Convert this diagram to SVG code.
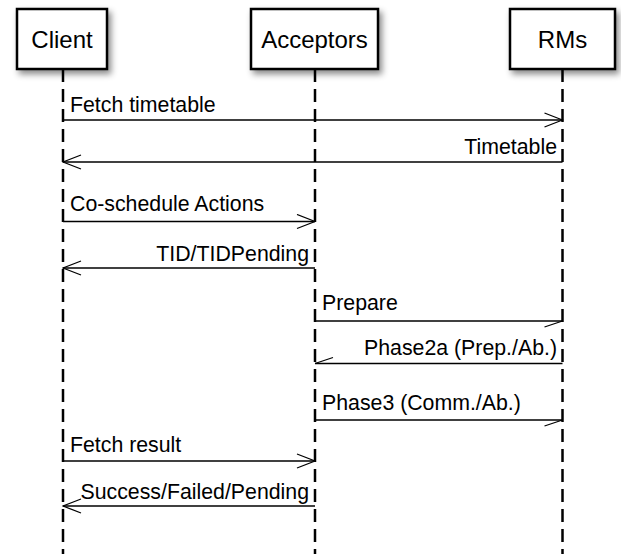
<svg xmlns="http://www.w3.org/2000/svg" width="621" height="554" viewBox="0 0 621 554">
  <defs>
    <filter id="shadow" x="-20%" y="-20%" width="150%" height="160%">
      <feDropShadow dx="3" dy="4" stdDeviation="3" flood-color="#000" flood-opacity="0.45"/>
    </filter>
    <!-- open arrowhead for synchronous messages -->
    <marker id="open" viewBox="0 0 20 16" refX="19" refY="8" markerWidth="20" markerHeight="16" markerUnits="userSpaceOnUse" orient="auto">
      <path d="M1,1 L19,8 L1,15" fill="none" stroke="#000" stroke-width="1.3"/>
    </marker>
    <!-- single-barb arrowhead for asynchronous messages -->
    <marker id="half" viewBox="0 0 20 16" refX="19" refY="8" markerWidth="20" markerHeight="16" markerUnits="userSpaceOnUse" orient="auto">
      <path d="M19,8 L1,14" fill="none" stroke="#000" stroke-width="1.3"/>
    </marker>
  </defs>
  <style>
    .box { fill: #fff; stroke: #000; stroke-width: 2.5; }
    .head { font-family: "Liberation Sans", Arial, sans-serif; font-size: 24px; fill: #000; text-anchor: middle; }
    .life { stroke: #000; stroke-width: 2.5; stroke-dasharray: 13 7; fill: none; }
    .msg { stroke: #000; stroke-width: 1.3; fill: none; }
    .lbl { font-family: "Liberation Sans", Arial, sans-serif; font-size: 21.3px; fill: #000; }
    .end { text-anchor: end; }
  </style>
  <rect width="621" height="554" fill="#fff"/>

  <!-- lifelines -->
  <g id="lifelines">
    <line class="life" x1="63" y1="69" x2="63" y2="554"/>
    <line class="life" x1="315" y1="69" x2="315" y2="554"/>
    <line class="life" x1="562.5" y1="69" x2="562.5" y2="554"/>
  </g>

  <g id="client">
    <rect class="box" x="17" y="9" width="90" height="60" filter="url(#shadow)"/>
    <text class="head" x="62" y="48">Client</text>
  </g>
  <g id="acceptors">
    <rect class="box" x="251" y="9" width="127" height="60" filter="url(#shadow)"/>
    <text class="head" x="314.5" y="48">Acceptors</text>
  </g>
  <g id="rms">
    <rect class="box" x="510" y="9" width="105" height="60" filter="url(#shadow)"/>
    <text class="head" x="562.5" y="48">RMs</text>
  </g>

  <g id="messages">
    <line class="msg" x1="63" y1="120" x2="562.5" y2="120" marker-end="url(#open)"/>
    <text class="lbl" x="70" y="112">Fetch timetable</text>

    <line class="msg" x1="562.5" y1="162" x2="63" y2="162" marker-end="url(#open)"/>
    <text class="lbl end" x="557" y="154">Timetable</text>

    <line class="msg" x1="63" y1="221.5" x2="315" y2="221.5" marker-end="url(#open)"/>
    <text class="lbl" x="70" y="211">Co-schedule Actions</text>

    <line class="msg" x1="315" y1="268" x2="63" y2="268" marker-end="url(#open)"/>
    <text class="lbl end" x="309" y="261">TID/TIDPending</text>

    <line class="msg" x1="315" y1="321" x2="562.5" y2="321" marker-end="url(#half)"/>
    <text class="lbl" x="322" y="310">Prepare</text>

    <line class="msg" x1="562.5" y1="363.5" x2="315" y2="363.5" marker-end="url(#half)"/>
    <text class="lbl end" x="557" y="355">Phase2a (Prep./Ab.)</text>

    <line class="msg" x1="315" y1="420" x2="562.5" y2="420" marker-end="url(#half)"/>
    <text class="lbl" x="322" y="410">Phase3 (Comm./Ab.)</text>

    <line class="msg" x1="63" y1="461" x2="315" y2="461" marker-end="url(#open)"/>
    <text class="lbl" x="70" y="452">Fetch result</text>

    <line class="msg" x1="315" y1="506" x2="63" y2="506" marker-end="url(#open)"/>
    <text class="lbl end" x="309" y="499">Success/Failed/Pending</text>
  </g>
</svg>
